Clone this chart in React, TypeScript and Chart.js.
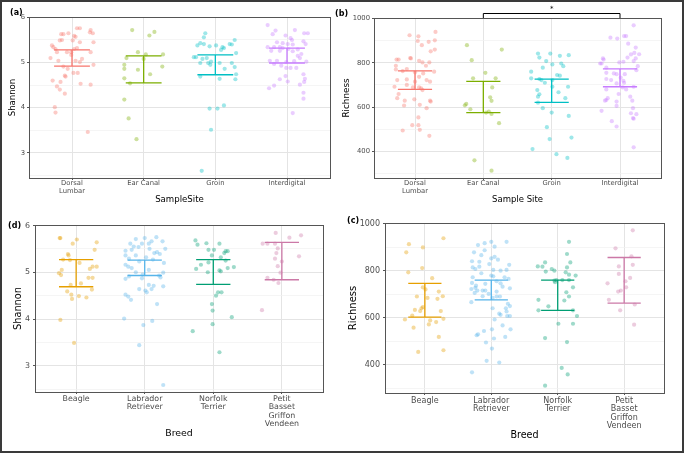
import React, { useEffect, useRef } from 'react';
import { Chart, registerables } from 'chart.js';
Chart.register(...registerables);

// ---------------- DATA ----------------
const siteLabels: (string | string[])[] = [['Dorsal', 'Lumbar'], 'Ear Canal', 'Groin', 'Interdigital'];
const breedLabels: (string | string[])[] = ['Beagle', ['Labrador', 'Retriever'], ['Norfolk', 'Terrier'], ['Petit', 'Basset', 'Griffon', 'Vendeen']];
const siteColors = ['#F8766D', '#7CAE00', '#00BFC4', '#C77CFF'];
const breedColors = ['#E69F00', '#56B4E9', '#009E73', '#CC79A7'];

const shannonTicks = [2.5, 3, 3.5, 4, 4.5, 5, 5.5, 6];
const shannonMajor = [3, 4, 5, 6];
const richnessTicks = [300, 400, 500, 600, 700, 800, 900, 1000];
const richnessMajor = [400, 600, 800, 1000];

// (a) Shannon by sample site: [jitter, value]
const shannonDorsal = [[0.07,5.76],[0.11,5.76],[0.26,5.72],[0.25,5.67],[0.29,5.65],[-0.15,5.63],[-0.12,5.63],[-0.05,5.65],[0.03,5.59],[0.05,5.57],[-0.14,5.5],[-0.17,5.49],[0.01,5.49],[0.11,5.45],[0.3,5.45],[-0.28,5.38],[-0.26,5.34],[-0.23,5.3],[0.03,5.3],[0.07,5.32],[-0.21,5.23],[-0.07,5.23],[-0.01,5.23],[0.26,5.23],[-0.01,5.17],[-0.3,5.1],[-0.19,5.04],[0.05,5.04],[0.14,5.08],[0.11,5.01],[0.3,4.95],[-0.12,4.91],[-0.06,4.86],[0.08,4.77],[0.02,4.77],[-0.1,4.71],[-0.09,4.69],[-0.27,4.6],[-0.16,4.57],[0.12,4.53],[0.26,4.51],[-0.21,4.47],[-0.17,4.4],[-0.1,4.31],[-0.24,4.01],[-0.23,3.89],[0.22,3.46]];
const shannonEar = [[-0.16,5.72],[0.15,5.68],[0.08,5.6],[-0.08,5.23],[0.03,5.18],[0.27,5.18],[-0.24,5.1],[0,5.08],[-0.27,4.95],[0.26,4.91],[-0.27,4.86],[-0.08,4.84],[0.09,4.74],[-0.27,4.65],[-0.19,4.54],[-0.27,4.18],[-0.21,3.76],[-0.1,3.3]];
const shannonGroin = [[-0.14,5.65],[-0.16,5.56],[0.27,5.5],[-0.21,5.43],[-0.16,5.41],[0.2,5.41],[0.23,5.4],[-0.25,5.38],[0.01,5.38],[-0.08,5.36],[0.1,5.34],[0.12,5.32],[0.08,5.28],[0.29,5.21],[-0.3,5.12],[-0.27,5.12],[-0.12,5.1],[-0.18,5.08],[-0.06,5.02],[0.06,4.99],[-0.21,4.99],[-0.1,4.99],[0.23,4.99],[-0.07,4.95],[0.27,4.9],[0.13,4.86],[0.29,4.74],[-0.21,4.69],[0.06,4.64],[0.28,4.63],[-0.08,3.98],[0.03,3.98],[0.12,4.05],[-0.06,3.51],[-0.19,2.6]];
const shannonInter = [[-0.27,5.83],[-0.16,5.71],[0.11,5.72],[-0.2,5.63],[0.24,5.65],[0.29,5.65],[-0.02,5.6],[0.05,5.54],[0.07,5.5],[0.23,5.47],[-0.14,5.45],[-0.06,5.43],[0.26,5.41],[0.01,5.41],[0.08,5.4],[-0.27,5.34],[-0.18,5.34],[-0.1,5.34],[-0.06,5.32],[0.02,5.3],[0.15,5.29],[-0.22,5.26],[-0.1,5.26],[0.08,5.25],[0.2,5.19],[0.15,5.15],[0.18,5.1],[-0.24,5.04],[-0.14,5.04],[0.1,5.03],[0.27,5.02],[-0.01,5.01],[-0.18,4.97],[-0.08,4.93],[-0.01,4.88],[0.05,4.88],[0.13,4.88],[0.23,4.74],[-0.02,4.7],[0.25,4.64],[-0.1,4.63],[0.01,4.58],[0.24,4.57],[0.18,4.51],[-0.18,4.49],[-0.25,4.43],[0.23,4.33],[0.23,4.2],[0.08,3.88]];
const shannonSiteIntervals = [[4.92, 5.28], [4.55, 5.15], [4.73, 5.17], [4.99, 5.32]];

// (b) Richness by sample site
const richDorsal = [[0.3,940],[-0.08,925],[0.05,920],[0.29,902],[0.2,895],[0.04,899],[0.1,880],[0.23,852],[0.29,860],[-0.07,822],[-0.06,820],[-0.27,815],[-0.24,815],[0.06,809],[0.11,802],[0.21,802],[-0.28,787],[0.16,787],[-0.28,770],[-0.12,772],[-0.18,763],[0,757],[0.12,752],[0.28,760],[0.06,737],[-0.12,725],[-0.26,722],[0.17,722],[0,715],[0.22,715],[-0.12,700],[-0.03,689],[0.06,689],[-0.3,692],[0.09,685],[0.11,677],[-0.24,659],[-0.26,640],[-0.15,629],[0.22,629],[0.23,625],[-0.01,635],[-0.16,607],[0.07,610],[0.17,595],[0.05,553],[-0.04,518],[0.05,518],[-0.18,494],[0.07,497],[0.21,470]];
const richEar = [[-0.24,880],[0.27,860],[-0.17,812],[0.03,755],[-0.15,730],[0.18,730],[0.13,689],[0.1,644],[0.12,628],[-0.25,614],[-0.27,608],[-0.19,590],[0.04,575],[0.08,580],[0.12,569],[0.23,527],[-0.13,359],[0.12,312]];
const richGroin = [[-0.2,842],[-0.18,824],[-0.02,842],[-0.08,808],[0.12,832],[0.01,793],[0.14,797],[0.17,785],[0.25,835],[-0.13,778],[-0.3,760],[0.08,745],[0.12,742],[-0.3,730],[-0.18,727],[-0.15,722],[0.01,722],[-0.1,710],[0.24,692],[0.01,692],[-0.21,677],[-0.18,658],[0.1,667],[-0.2,647],[0.2,640],[-0.2,620],[-0.13,595],[0,575],[0.25,560],[-0.07,509],[-0.03,455],[0.29,462],[-0.28,410],[0.07,387],[0.23,370]];
const richInter = [[0.2,970],[-0.14,914],[-0.04,910],[0.06,921],[0.09,921],[0.12,887],[0.23,869],[0.21,845],[0.28,839],[0.16,838],[0.11,824],[-0.25,820],[-0.24,815],[0.23,820],[0.2,808],[-0.29,797],[-0.27,797],[-0.01,802],[0.05,805],[0.26,785],[-0.2,778],[0.24,767],[-0.2,755],[-0.09,752],[-0.05,749],[0.07,749],[0.01,733],[-0.2,727],[-0.13,722],[0.05,719],[0.06,710],[-0.05,707],[0.04,689],[0.2,692],[-0.2,680],[0.09,680],[-0.02,659],[0.15,647],[-0.18,640],[-0.2,632],[-0.22,629],[0.18,629],[-0.05,625],[-0.05,605],[0.19,595],[-0.27,583],[0.16,572],[0.24,568],[0.19,550],[0.2,547],[-0.12,536],[-0.05,512],[0.2,418]];
const richSiteIntervals = [[680, 764], [575, 716], [621, 726], [692, 773]];

// (d) Shannon by breed
const shannonBeagle = [[-0.24,5.73],[-0.23,5.73],[0.01,5.7],[-0.05,5.61],[0.3,5.64],[0.27,5.48],[-0.12,5.39],[-0.11,5.36],[-0.19,5.27],[-0.09,5.26],[0.05,5.2],[0.24,5.12],[0.3,5.12],[0.2,5.07],[-0.21,5.05],[-0.25,4.98],[-0.22,4.94],[0.18,4.88],[0.24,4.88],[0.07,4.76],[-0.08,4.73],[0.23,4.63],[-0.13,4.59],[-0.07,4.52],[0.04,4.49],[0.15,4.46],[-0.06,4.43],[-0.23,3.98],[-0.03,3.49]];
const shannonLab = [[-0.13,5.71],[0,5.73],[0.17,5.75],[0.26,5.66],[0.1,5.66],[-0.21,5.61],[-0.04,5.61],[0.06,5.61],[-0.16,5.55],[-0.28,5.46],[-0.19,5.48],[-0.09,5.54],[0.07,5.5],[0.3,5.5],[-0.28,5.36],[0.18,5.43],[0.22,5.39],[0.14,5.41],[-0.13,5.36],[0.02,5.32],[-0.23,5.29],[0.12,5.27],[-0.08,5.23],[0.28,5.2],[-0.28,5.16],[-0.24,5.12],[0.06,5.05],[-0.19,5.09],[0.27,4.99],[-0.13,5],[-0.03,4.95],[0.21,4.93],[-0.28,4.86],[-0.04,4.87],[-0.23,4.91],[0.23,4.89],[0.27,4.7],[0.13,4.71],[0.1,4.64],[0.06,4.73],[0.01,4.61],[-0.08,4.64],[0.03,4.57],[-0.28,4.52],[-0.2,4.41],[-0.24,4.48],[0.18,4.32],[-0.3,4.01],[0.11,3.96],[-0.02,3.87],[-0.08,3.44],[0.27,2.59]];
const shannonNorfolk = [[-0.26,5.68],[-0.23,5.59],[-0.1,5.62],[0.09,5.61],[0.01,5.48],[-0.07,5.48],[0.18,5.45],[0.21,5.45],[0.16,5.41],[-0.02,5.36],[0.11,5.32],[0.18,5.25],[-0.07,5.21],[-0.18,5.16],[-0.25,5.07],[0.3,5.11],[0.21,5.09],[0.11,5.02],[0.09,5.04],[-0.08,5],[0.07,4.57],[0.12,4.57],[0.04,4.5],[-0.02,4.32],[-0.01,4.18],[-0.01,3.89],[0.27,4.04],[-0.3,3.74],[0.09,3.29]];
const shannonPBGV = [[-0.09,5.84],[0.11,5.74],[0.28,5.79],[-0.28,5.61],[-0.21,5.61],[-0.1,5.61],[-0.06,5.51],[-0.08,5.41],[0.25,5.34],[-0.1,5.29],[0,5.23],[-0.06,5.13],[-0.02,4.99],[-0.21,4.88],[-0.12,4.84],[-0.05,4.77],[-0.29,4.19]];
const shannonBreedIntervals = [[4.69, 5.27], [4.93, 5.26], [4.74, 5.27], [4.84, 5.64]];

// (c) Richness by breed
const richBeagle = [[0.28,938],[-0.24,913],[-0.03,899],[-0.28,878],[-0.04,811],[-0.25,793],[0.11,768],[-0.03,729],[0.01,720],[-0.12,690],[0.21,711],[0.27,691],[0.04,684],[0.19,680],[-0.15,633],[-0.05,640],[-0.03,645],[-0.07,628],[0.24,628],[-0.19,609],[-0.3,592],[0.28,595],[0.08,588],[0.17,581],[0.06,571],[-0.17,557],[0.21,518],[0.28,461],[-0.1,454]];
const richLab = [[0.23,923],[0,923],[-0.1,917],[-0.2,909],[0.05,902],[-0.26,878],[-0.1,887],[0.05,859],[-0.15,866],[0,852],[0.1,847],[-0.29,840],[-0.18,838],[-0.03,828],[0.27,825],[-0.18,817],[-0.28,814],[-0.24,807],[0.03,803],[0.14,800],[-0.15,789],[0.23,803],[0,779],[-0.28,772],[0.03,776],[0.2,772],[0.26,765],[0.08,755],[-0.29,748],[0.14,746],[-0.09,744],[-0.23,736],[0.17,732],[0.28,725],[-0.3,722],[-0.24,727],[-0.09,715],[-0.21,715],[-0.13,715],[0.08,711],[-0.25,705],[-0.04,701],[-0.13,691],[0.02,684],[0.08,690],[0.13,690],[0.25,659],[-0.3,666],[0.28,649],[0.02,640],[0.22,640],[0.23,626],[0.12,617],[0.14,612],[0.28,607],[0.24,607],[0.05,592],[0.17,567],[0.01,550],[0.29,550],[-0.11,543],[-0.2,529],[-0.22,525],[0.21,518],[0.04,511],[-0.08,494],[0.01,468],[-0.07,416],[0.12,409],[-0.29,367]];
const richNorfolk = [[0.17,923],[0.14,871],[0.19,835],[-0.19,835],[-0.09,807],[-0.05,800],[-0.3,818],[-0.23,817],[-0.18,796],[0.14,814],[0.12,793],[0.17,783],[0.27,779],[-0.02,760],[-0.05,758],[0.07,760],[0.17,760],[-0.04,751],[0.23,729],[0.13,708],[0.17,690],[0.1,673],[-0.29,676],[-0.14,648],[-0.29,631],[0.23,631],[0.29,607],[0.01,574],[0.23,574],[-0.19,513],[0.14,496],[0.06,386],[0.15,358],[-0.19,310]];
const richPBGV = [[0.13,972],[-0.13,895],[0.11,861],[0.13,825],[-0.08,818],[-0.08,786],[0.09,769],[-0.25,746],[0.02,755],[0.03,729],[-0.05,715],[-0.09,711],[-0.23,676],[0.16,656],[-0.06,631],[0.15,570]];
const richBreedIntervals = [[602, 746], [676, 760], [631, 760], [662, 856]];

// ---------------- HELPERS ----------------
const FONT = '"DejaVu Sans", "Liberation Sans", sans-serif';

function rgba(hex: string, a: number) {
  const n = parseInt(hex.slice(1), 16);
  return `rgba(${(n >> 16) & 255},${(n >> 8) & 255},${n & 255},${a})`;
}

type PanelProps = {
  left: number; top: number; width: number; height: number;
  padTop: number; padRight: number; yWidth: number; xHeight: number;
  groups: number[][][]; intervals: number[][]; colors: string[];
  catLabels: (string | string[])[];
  yMin: number; yMax: number; yTicks: number[]; yMajor: number[];
  yTitle: string; xTitle: string;
  tickSize: number; tickLH: number; yTitleSize: number; xTitleSize: number;
  yTitlePad: number; xTitlePad: number; xTickPad: number; yTickPad: number;
  bracket?: { from: number; to: number; text: string };
};

function Panel(p: PanelProps) {
  const ref = useRef<HTMLCanvasElement>(null);
  useEffect(() => {
    if (!ref.current) return;
    const isMajor = (v: number) => p.yMajor.some((m) => Math.abs(m - v) < 1e-6);
    const datasets = p.groups.map((g, i) => ({
      type: 'scatter' as const,
      data: g.map(([dx, v]) => ({ x: i + 1 + dx, y: v })),
      backgroundColor: rgba(p.colors[i], 0.38),
      borderWidth: 0,
      pointRadius: 2.1,
      pointHoverRadius: 2.1,
    }));
    const errPlugin = {
      id: 'errbars',
      afterDatasetsDraw(chart: any) {
        const { ctx, scales } = chart;
        const xs = scales.x, ys = scales.y;
        ctx.save();
        ctx.lineWidth = 1.3;
        p.intervals.forEach(([lo, hi], i) => {
          const xc = xs.getPixelForValue(i + 1);
          const xl = xs.getPixelForValue(i + 1 - 0.25);
          const xr = xs.getPixelForValue(i + 1 + 0.25);
          const yl = ys.getPixelForValue(lo);
          const yh = ys.getPixelForValue(hi);
          ctx.strokeStyle = p.colors[i];
          ctx.beginPath();
          ctx.moveTo(xl, yh); ctx.lineTo(xr, yh);
          ctx.moveTo(xl, yl); ctx.lineTo(xr, yl);
          ctx.moveTo(xc, yl); ctx.lineTo(xc, yh);
          ctx.stroke();
        });
        ctx.restore();
      },
    };
    const framePlugin = {
      id: 'frame',
      afterDraw(chart: any) {
        const { ctx, chartArea: a, scales } = chart;
        ctx.save();
        ctx.strokeStyle = '#555';
        ctx.lineWidth = 1;
        ctx.strokeRect(Math.round(a.left) + 0.5, Math.round(a.top) + 0.5, Math.round(a.right - a.left), Math.round(a.bottom - a.top));
        if (p.bracket) {
          const x1 = scales.x.getPixelForValue(p.bracket.from);
          const x2 = scales.x.getPixelForValue(p.bracket.to);
          const yb = Math.round(a.top) - 4.5;
          ctx.strokeStyle = '#000';
          ctx.lineWidth = 1;
          ctx.beginPath();
          ctx.moveTo(x1, a.top); ctx.lineTo(x1, yb); ctx.lineTo(x2, yb); ctx.lineTo(x2, a.top);
          ctx.stroke();
          ctx.fillStyle = '#000';
          ctx.font = `7px ${FONT}`;
          ctx.textAlign = 'center';
          ctx.textBaseline = 'middle';
          ctx.fillText(p.bracket.text, (x1 + x2) / 2, yb - 4);
        }
        ctx.restore();
      },
    };
    const chart = new Chart(ref.current, {
      type: 'scatter',
      data: { datasets },
      plugins: [errPlugin, framePlugin],
      options: {
        responsive: false,
        animation: false,
        devicePixelRatio: 1,
        events: [],
        layout: { padding: { top: p.padTop, right: p.padRight, left: 0, bottom: 0 } },
        plugins: { legend: { display: false }, tooltip: { enabled: false } },
        scales: {
          x: {
            type: 'linear',
            min: 0.4,
            max: 4.6,
            afterBuildTicks: (s: any) => { s.ticks = p.catLabels.map((_, i) => ({ value: i + 1 })); },
            afterFit: (s: any) => { s.height = p.xHeight; },
            ticks: {
              autoSkip: false,
              maxRotation: 0,
              padding: p.xTickPad,
              color: '#4D4D4D',
              font: { family: FONT, size: p.tickSize, lineHeight: p.tickLH },
              callback: (v: any) => p.catLabels[Math.round(v) - 1] as any,
            },
            grid: { color: '#E4E4E4', lineWidth: 1, tickLength: 2, tickColor: '#555' },
            border: { display: false },
            title: {
              display: true, text: p.xTitle, color: '#000',
              font: { family: FONT, size: p.xTitleSize },
              padding: { top: 0, bottom: p.xTitlePad },
            },
          },
          y: {
            type: 'linear',
            min: p.yMin,
            max: p.yMax,
            afterBuildTicks: (s: any) => { s.ticks = p.yTicks.map((v) => ({ value: v })); },
            afterFit: (s: any) => { s.width = p.yWidth; },
            ticks: {
              autoSkip: false,
              padding: p.yTickPad,
              color: '#4D4D4D',
              font: { family: FONT, size: p.tickSize },
              callback: (v: any) => (isMajor(Number(v)) ? String(v) : ''),
            },
            grid: {
              color: (c: any) => (c.tick && isMajor(c.tick.value) ? '#E4E4E4' : '#F1F1F1'),
              lineWidth: (c: any) => (c.tick && isMajor(c.tick.value) ? 1 : 0.7),
              tickLength: 2,
              tickColor: (c: any) => (c.tick && isMajor(c.tick.value) ? '#555' : 'rgba(0,0,0,0)'),
            },
            border: { display: false },
            title: {
              display: true, text: p.yTitle, color: '#000',
              font: { family: FONT, size: p.yTitleSize },
              padding: { top: p.yTitlePad, bottom: 0 },
            },
          },
        },
      } as any,
    });
    return () => chart.destroy();
  }, []);
  return (
    <canvas
      ref={ref}
      width={p.width}
      height={p.height}
      style={{ position: 'absolute', left: p.left, top: p.top, width: p.width, height: p.height }}
    />
  );
}

const labelStyle = (left: number, top: number): React.CSSProperties => ({
  position: 'absolute', left, top, fontFamily: FONT, fontWeight: 'bold', fontSize: 8, lineHeight: '9px', color: '#000',
});

export default function App() {
  return (
    <div style={{ position: 'fixed', left: 0, top: 0, width: 685, height: 455, background: '#fff', overflow: 'hidden' }}>
      <Panel
        left={0} top={0} width={340} height={210}
        padTop={17} padRight={10} yWidth={29} xHeight={32}
        groups={[shannonDorsal, shannonEar, shannonGroin, shannonInter]}
        intervals={shannonSiteIntervals} colors={siteColors} catLabels={siteLabels}
        yMin={2.44} yMax={6.01} yTicks={shannonTicks} yMajor={shannonMajor}
        yTitle="Shannon" xTitle="SampleSite"
        tickSize={6.8} tickLH={1.2} yTitleSize={8.5} xTitleSize={8.6}
        yTitlePad={7.8} xTitlePad={4.8} xTickPad={-1} yTickPad={2}
      />
      <Panel
        left={340} top={0} width={345} height={210}
        padTop={18} padRight={24} yWidth={34} xHeight={32}
        groups={[richDorsal, richEar, richGroin, richInter]}
        intervals={richSiteIntervals} colors={siteColors} catLabels={siteLabels}
        yMin={279} yMax={1003} yTicks={richnessTicks} yMajor={richnessMajor}
        yTitle="Richness" xTitle="Sample Site"
        tickSize={6.8} tickLH={1.2} yTitleSize={8.8} xTitleSize={8.5}
        yTitlePad={1.3} xTitlePad={4.8} xTickPad={-1} yTickPad={2}
        bracket={{ from: 2, to: 4, text: '*' }}
      />
      <Panel
        left={0} top={210} width={340} height={245}
        padTop={15} padRight={17} yWidth={35} xHeight={63}
        groups={[shannonBeagle, shannonLab, shannonNorfolk, shannonPBGV]}
        intervals={shannonBreedIntervals} colors={breedColors} catLabels={breedLabels}
        yMin={2.44} yMax={6.01} yTicks={shannonTicks} yMajor={shannonMajor}
        yTitle="Shannon" xTitle="Breed"
        tickSize={7.9} tickLH={1.05} yTitleSize={9.8} xTitleSize={9.4}
        yTitlePad={13} xTitlePad={15.4} xTickPad={1} yTickPad={3}
      />
      <Panel
        left={340} top={210} width={345} height={245}
        padTop={13} padRight={21} yWidth={45} xHeight={62}
        groups={[richBeagle, richLab, richNorfolk, richPBGV]}
        intervals={richBreedIntervals} colors={breedColors} catLabels={breedLabels}
        yMin={279} yMax={1003} yTicks={richnessTicks} yMajor={richnessMajor}
        yTitle="Richness" xTitle="Breed"
        tickSize={8} tickLH={1.05} yTitleSize={10} xTitleSize={9.6}
        yTitlePad={7} xTitlePad={13.4} xTickPad={1.5} yTickPad={3}
      />
      <div style={labelStyle(10, 8)}>(a)</div>
      <div style={labelStyle(335, 9)}>(b)</div>
      <div style={labelStyle(8, 221)}>(d)</div>
      <div style={labelStyle(347, 216)}>(c)</div>
      <div style={{ position: 'absolute', left: 0, top: 0, width: 684, height: 453, boxSizing: 'border-box', border: '2px solid #3a3a3a', pointerEvents: 'none' }} />
    </div>
  );
}
